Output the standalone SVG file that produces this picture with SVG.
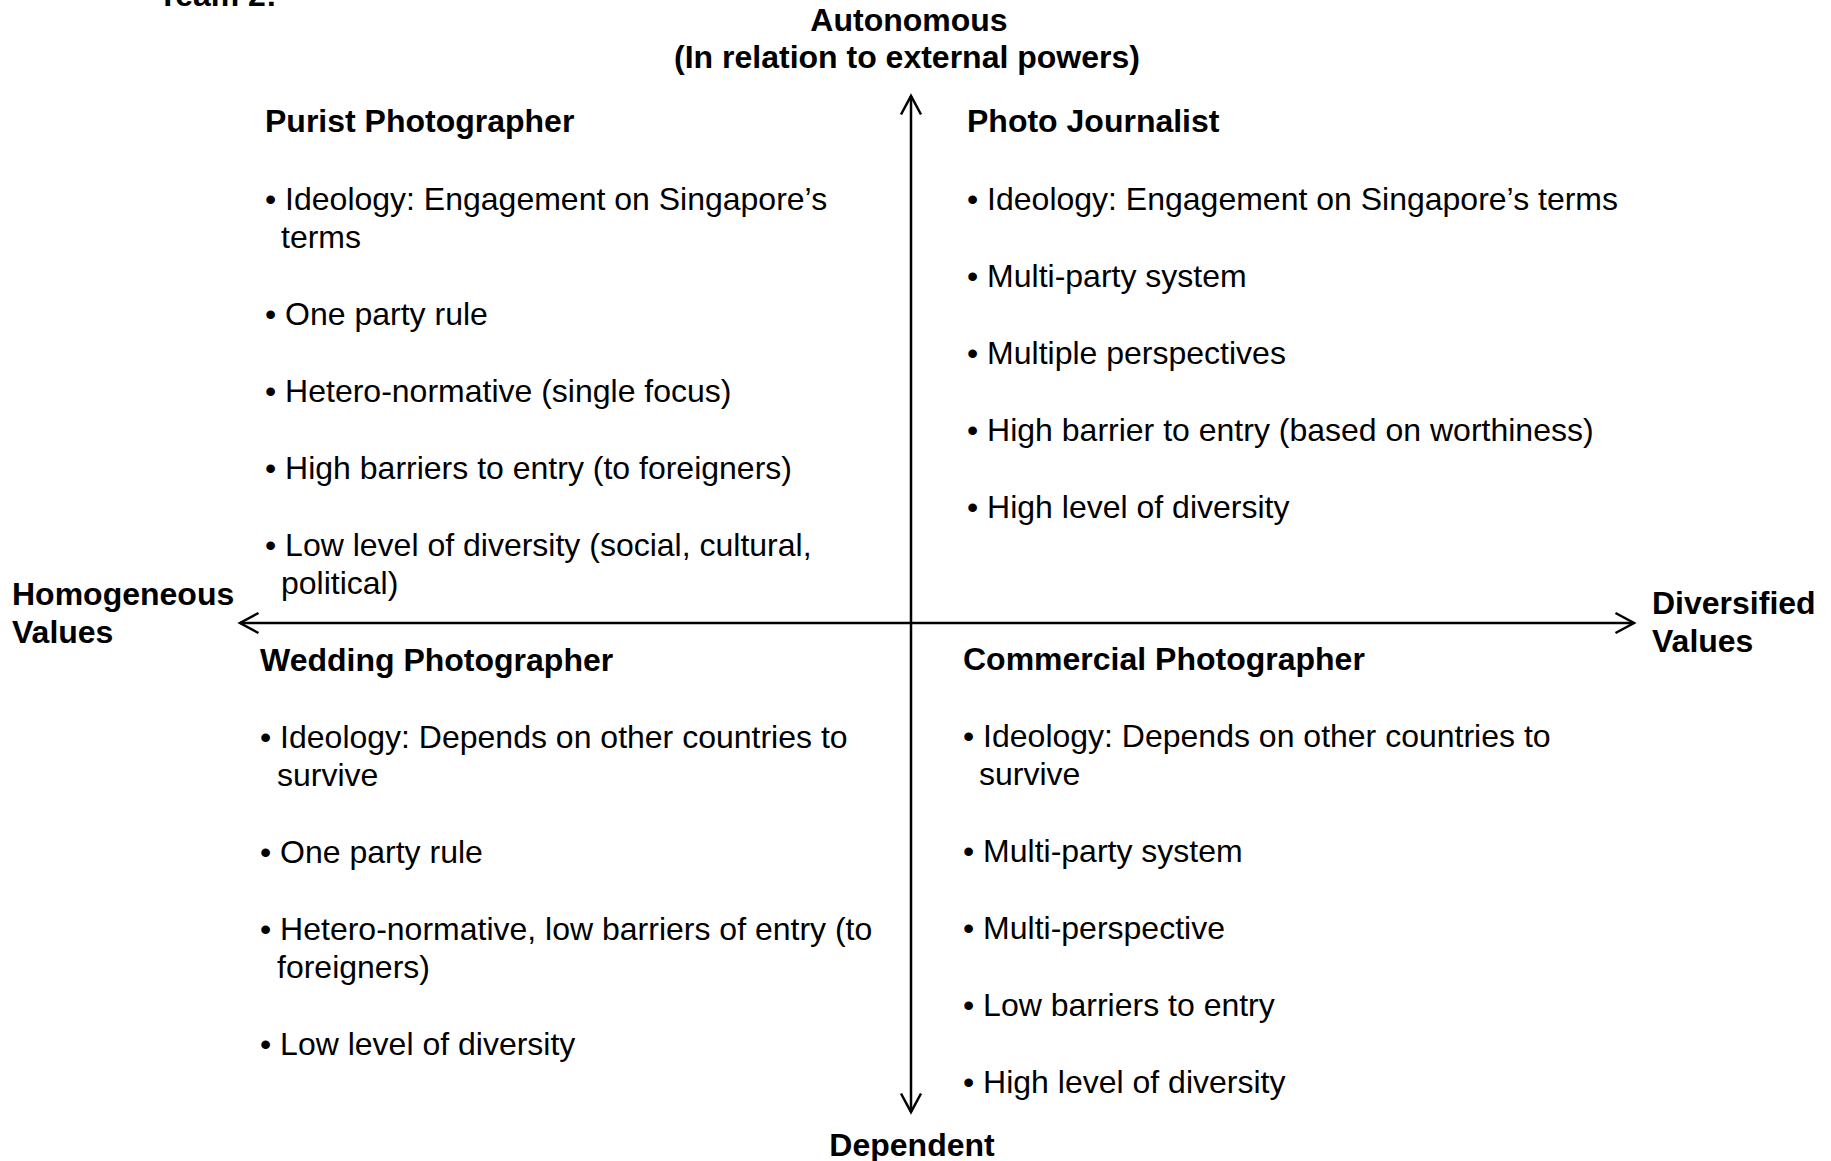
<svg xmlns="http://www.w3.org/2000/svg" width="1831" height="1161" viewBox="0 0 1831 1161">
<style>
text{font-family:"Liberation Sans",Arial,sans-serif;font-size:32px;fill:#000}
.b{font-weight:bold}
.m{text-anchor:middle}
.axis{stroke:#000;stroke-width:2.5;fill:none}
</style>
<defs>
<marker id="arr" viewBox="0 0 24 24" markerWidth="24" markerHeight="24" refX="20" refY="12" markerUnits="userSpaceOnUse" orient="auto-start-reverse">
<path d="M1.5,2 L20,12 L1.5,22" fill="none" stroke="#000" stroke-width="2.5"/>
</marker>
</defs>
<rect width="1831" height="1161" fill="#fff"/>
<g id="connectors">
<line class="axis" x1="911" y1="1112" x2="911" y2="96" marker-start="url(#arr)" marker-end="url(#arr)"/>
<line class="axis" x1="240" y1="623" x2="1634" y2="623" marker-start="url(#arr)" marker-end="url(#arr)"/>
</g>
<g id="title"><text class="b" x="158" y="6">Team 2:</text></g>
<g id="axis-top">
<text class="b m" x="909" y="31">Autonomous</text>
<text class="b m" x="907" y="68">(In relation to external powers)</text>
</g>
<g id="axis-left">
<text class="b" x="12" y="605">Homogeneous</text>
<text class="b" x="12" y="643">Values</text>
</g>
<g id="axis-right">
<text class="b" x="1652" y="614">Diversified</text>
<text class="b" x="1652" y="652">Values</text>
</g>
<g id="axis-bottom"><text class="b m" x="912" y="1156">Dependent</text></g>
<g id="purist">
<text class="b" x="265" y="132">Purist Photographer</text>
<text x="265" y="210">• Ideology: Engagement on Singapore’s</text>
<text x="281" y="248">terms</text>
<text x="265" y="325">• One party rule</text>
<text x="265" y="402">• Hetero-normative (single focus)</text>
<text x="265" y="479">• High barriers to entry (to foreigners)</text>
<text x="265" y="556">• Low level of diversity (social, cultural,</text>
<text x="281" y="594">political)</text>
</g>
<g id="journalist">
<text class="b" x="967" y="132">Photo Journalist</text>
<text x="967" y="210">• Ideology: Engagement on Singapore’s terms</text>
<text x="967" y="287">• Multi-party system</text>
<text x="967" y="364">• Multiple perspectives</text>
<text x="967" y="441">• High barrier to entry (based on worthiness)</text>
<text x="967" y="518">• High level of diversity</text>
</g>
<g id="wedding">
<text class="b" x="260" y="671">Wedding Photographer</text>
<text x="260" y="748">• Ideology: Depends on other countries to</text>
<text x="277" y="786">survive</text>
<text x="260" y="863">• One party rule</text>
<text x="260" y="940">• Hetero-normative, low barriers of entry (to</text>
<text x="277" y="978">foreigners)</text>
<text x="260" y="1055">• Low level of diversity</text>
</g>
<g id="commercial">
<text class="b" x="963" y="670">Commercial Photographer</text>
<text x="963" y="747">• Ideology: Depends on other countries to</text>
<text x="979" y="785">survive</text>
<text x="963" y="862">• Multi-party system</text>
<text x="963" y="939">• Multi-perspective</text>
<text x="963" y="1016">• Low barriers to entry</text>
<text x="963" y="1093">• High level of diversity</text>
</g>
</svg>
